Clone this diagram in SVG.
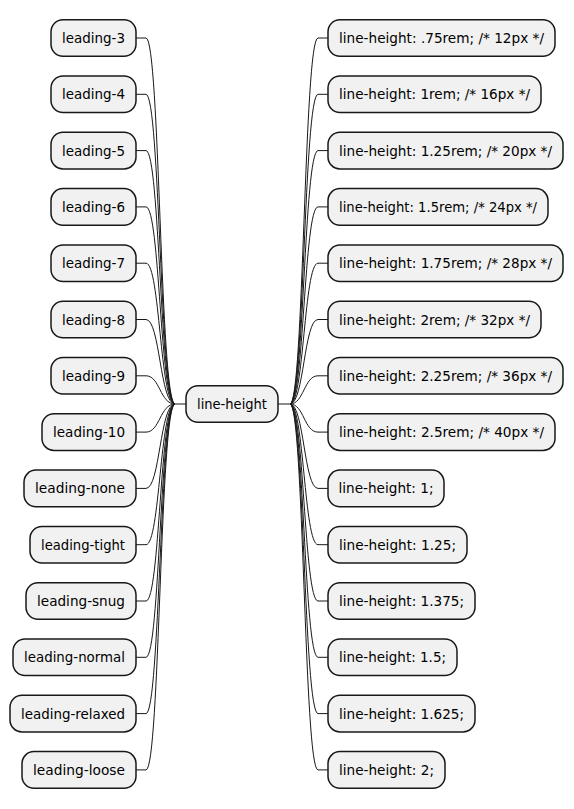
<svg xmlns="http://www.w3.org/2000/svg" width="574" height="809" viewBox="0 0 574 809">
<style>
.n rect{fill:#F1F1F1;stroke:#181818;stroke-width:1.5}
.n text{font-family:"DejaVu Sans","Liberation Sans",sans-serif;font-size:13.5px;fill:#000;text-anchor:middle}
#connectors path{fill:none;stroke:#181818;stroke-width:1}
</style>
<rect width="574" height="809" fill="#FFFFFF"/>
<g id="connectors">
<path d="M136,38 L146,38 C160,38 160,404 175,404 L186,404"/>
<path d="M136,94.3 L146,94.3 C160,94.3 160,404 175,404"/>
<path d="M136,150.6 L146,150.6 C160,150.6 160,404 175,404"/>
<path d="M136,206.9 L146,206.9 C160,206.9 160,404 175,404"/>
<path d="M136,263.2 L146,263.2 C160,263.2 160,404 175,404"/>
<path d="M136,319.5 L146,319.5 C160,319.5 160,404 175,404"/>
<path d="M136,375.8 L146,375.8 C160,375.8 160,404 175,404"/>
<path d="M136,432.1 L146,432.1 C160,432.1 160,404 175,404"/>
<path d="M136,488.4 L146,488.4 C160,488.4 160,404 175,404"/>
<path d="M136,544.7 L146,544.7 C160,544.7 160,404 175,404"/>
<path d="M136,601 L146,601 C160,601 160,404 175,404"/>
<path d="M136,657.3 L146,657.3 C160,657.3 160,404 175,404"/>
<path d="M136,713.6 L146,713.6 C160,713.6 160,404 175,404"/>
<path d="M136,769.9 L146,769.9 C160,769.9 160,404 175,404"/>
<path d="M278,404 L290,404 C304,404 304,38 318,38 L328,38"/>
<path d="M290,404 C304,404 304,94.3 318,94.3 L328,94.3"/>
<path d="M290,404 C304,404 304,150.6 318,150.6 L328,150.6"/>
<path d="M290,404 C304,404 304,206.9 318,206.9 L328,206.9"/>
<path d="M290,404 C304,404 304,263.2 318,263.2 L328,263.2"/>
<path d="M290,404 C304,404 304,319.5 318,319.5 L328,319.5"/>
<path d="M290,404 C304,404 304,375.8 318,375.8 L328,375.8"/>
<path d="M290,404 C304,404 304,432.1 318,432.1 L328,432.1"/>
<path d="M290,404 C304,404 304,488.4 318,488.4 L328,488.4"/>
<path d="M290,404 C304,404 304,544.7 318,544.7 L328,544.7"/>
<path d="M290,404 C304,404 304,601 318,601 L328,601"/>
<path d="M290,404 C304,404 304,657.3 318,657.3 L328,657.3"/>
<path d="M290,404 C304,404 304,713.6 318,713.6 L328,713.6"/>
<path d="M290,404 C304,404 304,769.9 318,769.9 L328,769.9"/>
</g>
<g id="root" class="n"><rect x="186" y="385.7" width="92" height="36.6" rx="12"/><text x="232" y="409" textLength="70" lengthAdjust="spacingAndGlyphs">line-height</text></g>
<g id="l1" class="n"><rect x="51" y="19.7" width="85" height="36.6" rx="12"/><text x="93.5" y="43" textLength="63" lengthAdjust="spacingAndGlyphs">leading-3</text></g>
<g id="l2" class="n"><rect x="51" y="76" width="85" height="36.6" rx="12"/><text x="93.5" y="99.3" textLength="63" lengthAdjust="spacingAndGlyphs">leading-4</text></g>
<g id="l3" class="n"><rect x="51" y="132.3" width="85" height="36.6" rx="12"/><text x="93.5" y="155.6" textLength="63" lengthAdjust="spacingAndGlyphs">leading-5</text></g>
<g id="l4" class="n"><rect x="51" y="188.6" width="85" height="36.6" rx="12"/><text x="93.5" y="211.9" textLength="63" lengthAdjust="spacingAndGlyphs">leading-6</text></g>
<g id="l5" class="n"><rect x="51" y="244.9" width="85" height="36.6" rx="12"/><text x="93.5" y="268.2" textLength="63" lengthAdjust="spacingAndGlyphs">leading-7</text></g>
<g id="l6" class="n"><rect x="51" y="301.2" width="85" height="36.6" rx="12"/><text x="93.5" y="324.5" textLength="63" lengthAdjust="spacingAndGlyphs">leading-8</text></g>
<g id="l7" class="n"><rect x="51" y="357.5" width="85" height="36.6" rx="12"/><text x="93.5" y="380.8" textLength="63" lengthAdjust="spacingAndGlyphs">leading-9</text></g>
<g id="l8" class="n"><rect x="42" y="413.8" width="94" height="36.6" rx="12"/><text x="89" y="437.1" textLength="72" lengthAdjust="spacingAndGlyphs">leading-10</text></g>
<g id="l9" class="n"><rect x="24" y="470.1" width="112" height="36.6" rx="12"/><text x="80" y="493.4" textLength="90" lengthAdjust="spacingAndGlyphs">leading-none</text></g>
<g id="l10" class="n"><rect x="30" y="526.4" width="106" height="36.6" rx="12"/><text x="83" y="549.7" textLength="84" lengthAdjust="spacingAndGlyphs">leading-tight</text></g>
<g id="l11" class="n"><rect x="26" y="582.7" width="110" height="36.6" rx="12"/><text x="81" y="606" textLength="88" lengthAdjust="spacingAndGlyphs">leading-snug</text></g>
<g id="l12" class="n"><rect x="13" y="639" width="123" height="36.6" rx="12"/><text x="74.5" y="662.3" textLength="101" lengthAdjust="spacingAndGlyphs">leading-normal</text></g>
<g id="l13" class="n"><rect x="10" y="695.3" width="126" height="36.6" rx="12"/><text x="73" y="718.6" textLength="104" lengthAdjust="spacingAndGlyphs">leading-relaxed</text></g>
<g id="l14" class="n"><rect x="22" y="751.6" width="114" height="36.6" rx="12"/><text x="79" y="774.9" textLength="92" lengthAdjust="spacingAndGlyphs">leading-loose</text></g>
<g id="r1" class="n"><rect x="328" y="19.7" width="227" height="36.6" rx="12"/><text x="441.5" y="43" textLength="205" lengthAdjust="spacingAndGlyphs">line-height: .75rem; /* 12px */</text></g>
<g id="r2" class="n"><rect x="328" y="76" width="213" height="36.6" rx="12"/><text x="434.5" y="99.3" textLength="191" lengthAdjust="spacingAndGlyphs">line-height: 1rem; /* 16px */</text></g>
<g id="r3" class="n"><rect x="328" y="132.3" width="235" height="36.6" rx="12"/><text x="445.5" y="155.6" textLength="213" lengthAdjust="spacingAndGlyphs">line-height: 1.25rem; /* 20px */</text></g>
<g id="r4" class="n"><rect x="328" y="188.6" width="220" height="36.6" rx="12"/><text x="438" y="211.9" textLength="198" lengthAdjust="spacingAndGlyphs">line-height: 1.5rem; /* 24px */</text></g>
<g id="r5" class="n"><rect x="328" y="244.9" width="235" height="36.6" rx="12"/><text x="445.5" y="268.2" textLength="213" lengthAdjust="spacingAndGlyphs">line-height: 1.75rem; /* 28px */</text></g>
<g id="r6" class="n"><rect x="328" y="301.2" width="213" height="36.6" rx="12"/><text x="434.5" y="324.5" textLength="191" lengthAdjust="spacingAndGlyphs">line-height: 2rem; /* 32px */</text></g>
<g id="r7" class="n"><rect x="328" y="357.5" width="235" height="36.6" rx="12"/><text x="445.5" y="380.8" textLength="213" lengthAdjust="spacingAndGlyphs">line-height: 2.25rem; /* 36px */</text></g>
<g id="r8" class="n"><rect x="328" y="413.8" width="227" height="36.6" rx="12"/><text x="441.5" y="437.1" textLength="205" lengthAdjust="spacingAndGlyphs">line-height: 2.5rem; /* 40px */</text></g>
<g id="r9" class="n"><rect x="328" y="470.1" width="116" height="36.6" rx="12"/><text x="386" y="493.4" textLength="95" lengthAdjust="spacingAndGlyphs">line-height: 1;</text></g>
<g id="r10" class="n"><rect x="328" y="526.4" width="139" height="36.6" rx="12"/><text x="397.5" y="549.7" textLength="117" lengthAdjust="spacingAndGlyphs">line-height: 1.25;</text></g>
<g id="r11" class="n"><rect x="328" y="582.7" width="147" height="36.6" rx="12"/><text x="401.5" y="606" textLength="125" lengthAdjust="spacingAndGlyphs">line-height: 1.375;</text></g>
<g id="r12" class="n"><rect x="328" y="639" width="129" height="36.6" rx="12"/><text x="392.5" y="662.3" textLength="107" lengthAdjust="spacingAndGlyphs">line-height: 1.5;</text></g>
<g id="r13" class="n"><rect x="328" y="695.3" width="147" height="36.6" rx="12"/><text x="401.5" y="718.6" textLength="125" lengthAdjust="spacingAndGlyphs">line-height: 1.625;</text></g>
<g id="r14" class="n"><rect x="328" y="751.6" width="117" height="36.6" rx="12"/><text x="386.5" y="774.9" textLength="95" lengthAdjust="spacingAndGlyphs">line-height: 2;</text></g>
</svg>
